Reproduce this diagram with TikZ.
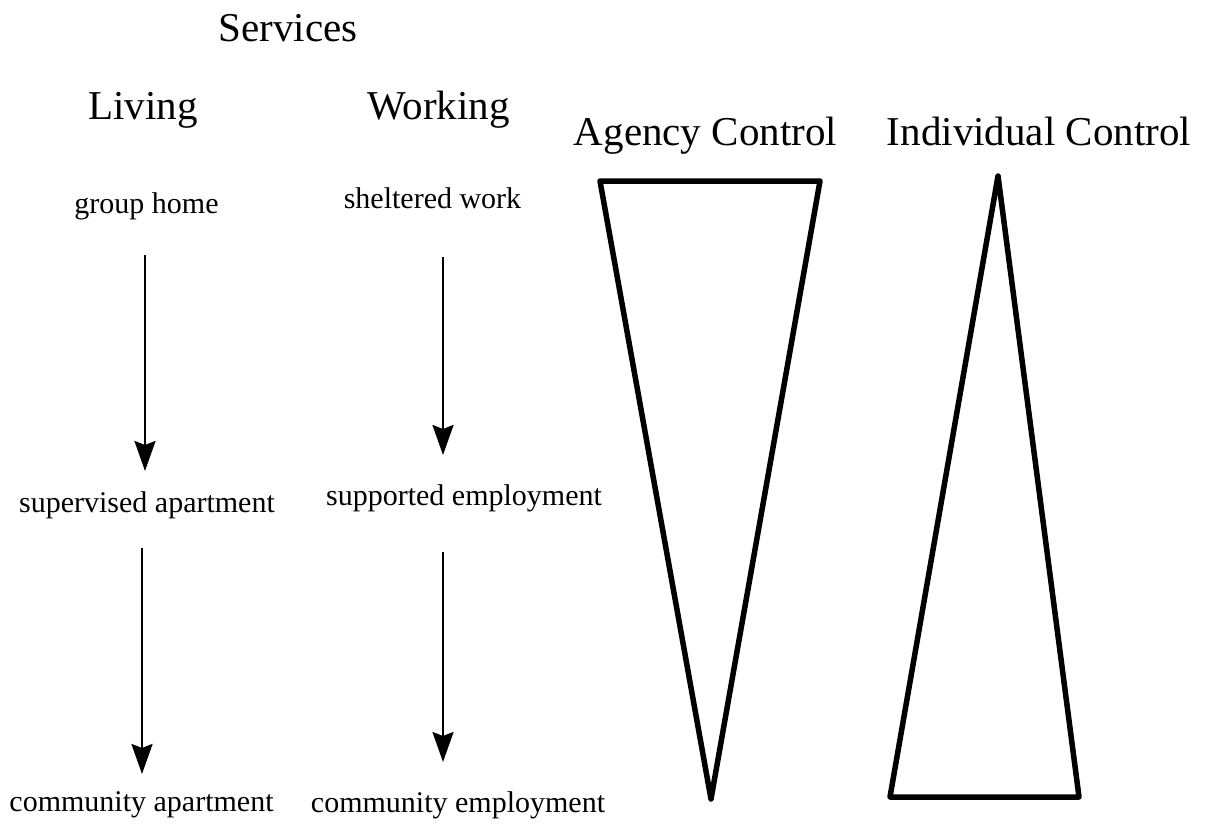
\documentclass[tikz,border=0pt]{standalone}
\usepackage{fontspec}
\setmainfont{Liberation Serif}
\usetikzlibrary{arrows.meta}

\begin{document}
\begin{tikzpicture}[x=1pt,y=-1pt,
	head/.style={font=\fontsize{41}{41}\selectfont,inner sep=0pt,anchor=base},
	item/.style={font=\fontsize{30}{30}\selectfont,inner sep=0pt,anchor=base},
	flow/.style={-{Stealth[length=30pt,width=21pt,inset=4pt]},line width=2.4pt},
	wedge/.style={line width=5.5pt,line join=round}]
	\useasboundingbox (0,0) rectangle (1218,824);
	%HEADINGS
	\node[head] (serv) at (288,42) {Services};
	\node[head] (liv) at (143,120) {Living};
	\node[head] (work) at (438.5,120) {Working};
	\node[head] (agency) at (705.5,146) {Agency Control};
	\node[head] (indiv) at (1039,146) {Individual Control};
	
	%LIVING COLUMN
	\node[item] (grp) at (146.5,213) {group home};
	\node[item] (supapt) at (147,512) {supervised apartment};
	\node[item] (comapt) at (141.5,811) {community apartment};
	
	%WORKING COLUMN
	\node[item] (shel) at (432.5,208) {sheltered work};
	\node[item] (supemp) at (464,505) {supported employment};
	\node[item] (comemp) at (458,812) {community employment};
	
	%ARROWS
	\coordinate (l1s) at (145,255);	\coordinate (l1e) at (145,471);	%living, top
	\coordinate (l2s) at (142,548);	\coordinate (l2e) at (142,774);	%living, bottom
	\coordinate (w1s) at (443,257);	\coordinate (w1e) at (443,455);	%working, top
	\coordinate (w2s) at (443,552);	\coordinate (w2e) at (443,762);	%working, bottom
	\draw[flow] (l1s)--(l1e);
	\draw[flow] (l2s)--(l2e);
	\draw[flow] (w1s)--(w1e);
	\draw[flow] (w2s)--(w2e);
	
	%TRIANGLES
	\draw[wedge] (600,181)--(820,181)--(711,799)--cycle;	%agency control, narrowing
	\draw[wedge] (998,176)--(1079,797)--(890,797)--cycle;	%individual control, widening
\end{tikzpicture}
\end{document}
